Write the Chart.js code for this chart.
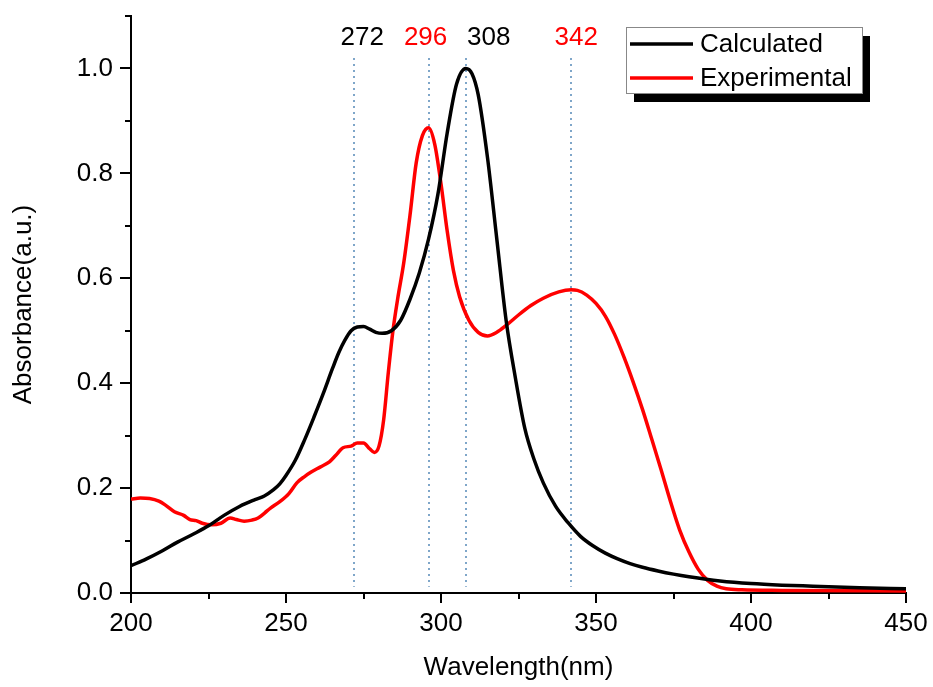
<!DOCTYPE html>
<html>
<head>
<meta charset="utf-8">
<script src="https://cdn.jsdelivr.net/npm/chart.js@4.4.1/dist/chart.umd.min.js"></script>
<style>
  html, body { margin: 0; padding: 0; background: #fff; }
</style>
</head>
<body>
<canvas id="chart" width="933" height="687"></canvas>
<script>
// Calculated spectrum (wavelength nm, absorbance)
var calcX = [200, 205, 210, 215, 220, 225, 230, 235, 240, 243, 246, 248, 250, 253, 256, 259, 262, 265, 267, 269, 271, 273, 275, 277, 279, 281, 284, 287, 290, 293, 296, 299, 302, 305, 308, 310, 312, 315, 318, 321, 324, 327, 330, 333, 337, 341, 345, 349, 353, 357, 361, 365, 370, 375, 380, 390, 400, 410, 420, 435, 450]
var calcY = [0.052, 0.065, 0.08, 0.097, 0.112, 0.128, 0.148, 0.165, 0.178, 0.185, 0.197, 0.208, 0.224, 0.253, 0.292, 0.335, 0.38, 0.428, 0.458, 0.482, 0.5, 0.507, 0.508, 0.503, 0.497, 0.495, 0.5, 0.52, 0.56, 0.61, 0.675, 0.76, 0.877, 0.97, 1.0, 0.99, 0.95, 0.83, 0.675, 0.52, 0.41, 0.315, 0.255, 0.21, 0.165, 0.134, 0.108, 0.09, 0.076, 0.065, 0.056, 0.049, 0.042, 0.036, 0.031, 0.023, 0.018, 0.015, 0.013, 0.01, 0.008]

// Experimental spectrum
var expX = [200, 203, 206, 209, 211, 214, 217, 219, 221, 223, 226, 229, 232, 234, 236.5, 239, 241, 243, 245, 248, 251, 253.5, 256, 258, 261, 264, 266, 268.4, 271, 273, 275, 277, 278.5, 280, 281.5, 283, 284.5, 286, 288, 290, 292, 294, 296, 298, 300, 302, 304, 306, 309, 312, 315, 318, 321, 325, 329, 333, 338, 342, 344, 347, 350, 353, 356, 359, 362, 365, 368, 371, 374, 377, 380, 383, 386, 389, 392, 397, 410, 450]
var expY = [0.179, 0.181, 0.18, 0.175, 0.168, 0.155, 0.148, 0.14, 0.138, 0.133, 0.13, 0.133, 0.143, 0.14, 0.137, 0.139, 0.143, 0.152, 0.162, 0.174, 0.19, 0.21, 0.222, 0.23, 0.24, 0.25, 0.262, 0.277, 0.28, 0.286, 0.286, 0.275, 0.268, 0.28, 0.33, 0.42, 0.5, 0.56, 0.63, 0.72, 0.82, 0.872, 0.887, 0.855, 0.78, 0.69, 0.615, 0.565, 0.52, 0.497, 0.49, 0.497, 0.51, 0.53, 0.548, 0.562, 0.574, 0.578, 0.577, 0.568, 0.552, 0.528, 0.493, 0.45, 0.402, 0.35, 0.293, 0.235, 0.175, 0.12, 0.078, 0.045, 0.024, 0.013, 0.008, 0.006, 0.005, 0.004]

// marked peaks
var calcPeaks = [272, 308]
var expPeaks = [296, 342]

// ticks
var xTicks = [200, 250, 300, 350, 400, 450]
var xMinor = [225, 275, 325, 375, 425]
var yTicks = [0, 0.2, 0.4, 0.6, 0.8, 1.0]
var yMinor = [0.1, 0.3, 0.5, 0.7, 0.9, 1.1]

var FONT = '"Liberation Sans", Arial, sans-serif'
var RED = '#ff0000'

function pts(xs, ys) {
  return xs.map((x, i) => ({ x: x, y: ys[i] }))
}

// tick marks (major long, minor short), drawn outward
var tickMarks = {
  id: 'tickMarks',
  afterDraw(chart) {
    var ctx = chart.ctx, a = chart.chartArea
    var xs = chart.scales.x, ys = chart.scales.y
    ctx.save()
    ctx.strokeStyle = '#000'
    ctx.lineWidth = 2
    ctx.beginPath()
    xTicks.forEach(v => { var p = Math.round(xs.getPixelForValue(v)); ctx.moveTo(p, a.bottom); ctx.lineTo(p, a.bottom + 10) })
    xMinor.forEach(v => { var p = Math.round(xs.getPixelForValue(v)); ctx.moveTo(p, a.bottom); ctx.lineTo(p, a.bottom + 6) })
    yTicks.forEach(v => { var p = Math.round(ys.getPixelForValue(v)); ctx.moveTo(a.left, p); ctx.lineTo(a.left - 11, p) })
    yMinor.forEach(v => { var p = Math.round(ys.getPixelForValue(v)); ctx.moveTo(a.left, p); ctx.lineTo(a.left - 6, p) })
    ctx.stroke()
    ctx.restore()
  }
}

// dotted peak markers and their labels
var peakMarks = {
  id: 'peakMarks',
  beforeDatasetsDraw(chart) {
    var ctx = chart.ctx, xs = chart.scales.x, ys = chart.scales.y
    var all = calcPeaks.concat(expPeaks)
    ctx.save()
    ctx.strokeStyle = '#7fa6c9'
    ctx.lineWidth = 2
    ctx.setLineDash([2, 4])
    all.forEach(v => {
      var p = Math.round(xs.getPixelForValue(v))
      ctx.beginPath()
      ctx.moveTo(p, ys.getPixelForValue(1.02))
      ctx.lineTo(p, ys.getPixelForValue(0.012))
      ctx.stroke()
    })
    ctx.restore()
  },
  afterDraw(chart) {
    var ctx = chart.ctx, xs = chart.scales.x
    var shift = { 272: 8, 296: -3, 308: 23, 342: 5 }
    ctx.save()
    ctx.font = '26px ' + FONT
    ctx.textAlign = 'center'
    ctx.textBaseline = 'middle'
    calcPeaks.forEach(v => {
      ctx.fillStyle = chart.data.datasets[0].borderColor
      ctx.fillText(String(v), xs.getPixelForValue(v) + shift[v], 38)
    })
    expPeaks.forEach(v => {
      ctx.fillStyle = chart.data.datasets[1].borderColor
      ctx.fillText(String(v), xs.getPixelForValue(v) + shift[v], 38)
    })
    ctx.restore()
  }
}

// boxed legend with drop shadow
var shadowLegend = {
  id: 'shadowLegend',
  afterDraw(chart) {
    var ctx = chart.ctx
    var bx = 626, by = 27, bw = 236, bh = 66
    ctx.save()
    ctx.fillStyle = '#000'
    ctx.fillRect(bx + 8, by + 9, bw, bh)
    ctx.fillStyle = '#fff'
    ctx.fillRect(bx, by, bw, bh)
    ctx.strokeStyle = '#888'
    ctx.lineWidth = 1
    ctx.strokeRect(bx + 0.5, by + 0.5, bw, bh)
    ctx.font = '26px ' + FONT
    ctx.textBaseline = 'middle'
    ctx.textAlign = 'left'
    chart.data.datasets.forEach((ds, i) => {
      var y = by + 17 + i * 34
      ctx.strokeStyle = ds.borderColor
      ctx.lineWidth = 3.5
      ctx.beginPath()
      ctx.moveTo(bx + 4, y)
      ctx.lineTo(bx + 67, y)
      ctx.stroke()
      ctx.fillStyle = '#000'
      ctx.fillText(ds.label, bx + 74, y + 1)
    })
    ctx.restore()
  }
}

new Chart(document.getElementById('chart'), {
  type: 'line',
  data: {
    datasets: [
      {
        label: 'Calculated',
        data: pts(calcX, calcY),
        borderColor: '#000000',
        borderWidth: 3.5,
        pointRadius: 0,
        cubicInterpolationMode: 'monotone',
        fill: false,
      },
      {
        label: 'Experimental',
        data: pts(expX, expY),
        borderColor: RED,
        borderWidth: 3.5,
        pointRadius: 0,
        cubicInterpolationMode: 'monotone',
        fill: false,
      },
    ],
  },
  options: {
    responsive: false,
    animation: false,
    devicePixelRatio: 1,
    layout: { padding: { top: 16, right: 27, left: 0, bottom: 0 } },
    plugins: {
      legend: { display: false },
      tooltip: { enabled: false },
    },
    scales: {
      x: {
        type: 'linear',
        min: 200,
        max: 450,
        afterBuildTicks: (s) => { s.ticks = xTicks.map(v => ({ value: v })) },
        afterFit: (s) => { s.height = 94; s.paddingLeft = 0; s.paddingRight = 0 },
        grid: { display: false, drawTicks: false },
        border: { display: true, color: '#000', width: 2 },
        ticks: {
          color: '#000',
          font: { family: FONT, size: 26 },
          padding: 15,
          maxRotation: 0,
          autoSkip: false,
          callback: (v) => String(v),
        },
        title: {
          display: true,
          text: 'Wavelength(nm)',
          color: '#000',
          font: { family: FONT, size: 26 },
          padding: { top: 0, bottom: 4 },
        },
      },
      y: {
        min: 0,
        max: 1.1,
        afterBuildTicks: (s) => { s.ticks = yTicks.map(v => ({ value: v })) },
        afterFit: (s) => { s.width = 131; s.paddingTop = 0; s.paddingBottom = 0 },
        grid: { display: false, drawTicks: false },
        border: { display: true, color: '#000', width: 2 },
        ticks: {
          color: '#000',
          font: { family: FONT, size: 26 },
          padding: 18,
          callback: (v) => v.toFixed(1),
        },
        title: {
          display: true,
          text: 'Absorbance(a.u.)',
          color: '#000',
          font: { family: FONT, size: 26 },
          padding: { top: 8, bottom: 0 },
        },
      },
    },
  },
  plugins: [peakMarks, tickMarks, shadowLegend],
})
</script>
</body>
</html>
